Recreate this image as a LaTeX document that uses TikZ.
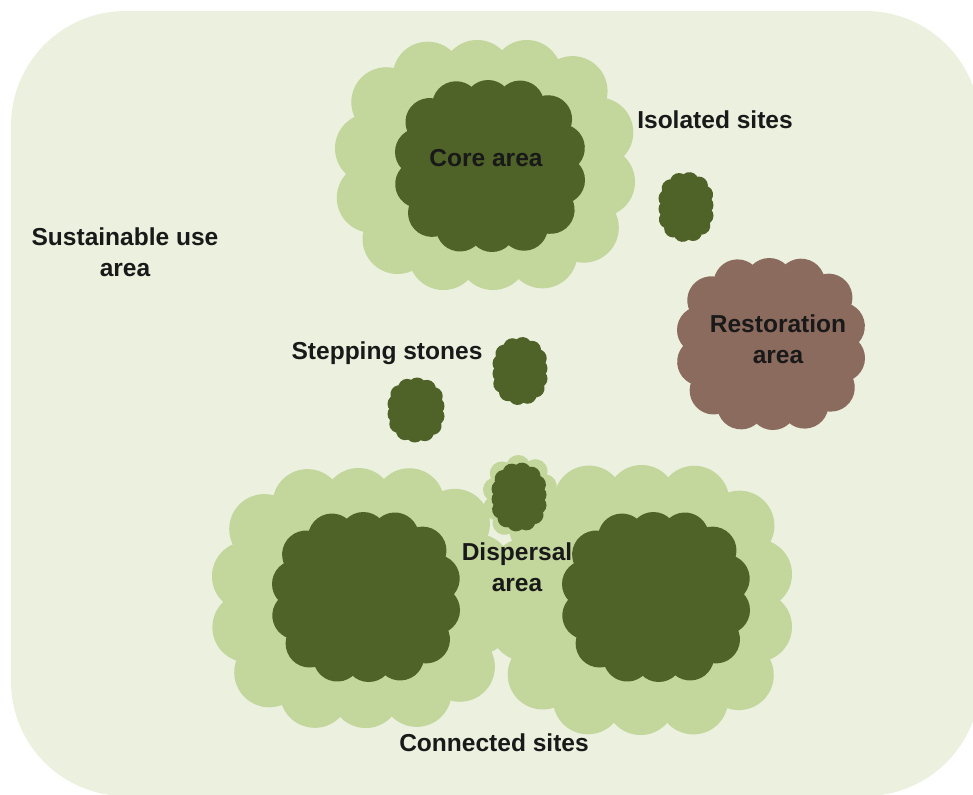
\documentclass[tikz,border=0pt]{standalone}
\usepackage{fontspec}
\setmainfont{Liberation Sans}
\usetikzlibrary{decorations.markings}
\definecolor{bgland}{HTML}{EBF0DF}
\definecolor{buffer}{HTML}{C3D69B}
\definecolor{core}{HTML}{4F6228}
\definecolor{restore}{HTML}{8B6B5D}
% colour, centre, half width, half height, corner, puff radius, puff step
\newcommand{\blob}[7]{\path[fill=#1,rounded corners=#5,postaction={decorate},
	decoration={markings,mark=between positions 0 and 0.99 step #7 with {\fill[#1] (0,0) circle (#6);}}]
	(#2) ++(-#3,-#4) rectangle ++(2*#3,2*#4);}
\begin{document}
\begin{tikzpicture}[x=0.75pt,y=-0.75pt,
	lbl/.style={text=black!90,font=\fontsize{18.4}{23}\selectfont\bfseries,align=center,inner sep=0pt}]
	\useasboundingbox (0,0) rectangle (973,794);
	\clip (0,0) rectangle (973,794);
	\fill[bgland,rounded corners=86pt] (11,11) rectangle (980,796);
	\blob{buffer}{485,165}{115}{90}{55pt}{35}{0.0714}
	\blob{core}{490,166}{71}{62}{36pt}{24}{0.0714}
	\blob{core}{686,207}{18.5}{26}{13pt}{9}{0.0714}
	\blob{restore}{771,344}{70}{62}{36pt}{24}{0.0714}
	\blob{core}{520,371}{18.5}{25}{13pt}{9}{0.0714}
	\blob{core}{416,410}{19.5}{23.5}{13pt}{9}{0.0714}
	\blob{buffer}{362,598}{115}{95}{55pt}{35}{0.0714}
	\blob{buffer}{520,497}{25}{30}{17pt}{12}{0.1}
	\blob{buffer}{641,600}{116}{100}{55pt}{35}{0.0714}
	\blob{core}{519,497}{18.5}{25.5}{13pt}{9}{0.0714}
	\blob{core}{366,597}{70}{61}{36pt}{24}{0.0714}
	\blob{core}{656,597}{70}{61}{36pt}{24}{0.0714}
	\node[lbl] (sustain) at (125,252) {Sustainable use\\area};
	\node[lbl] (corelbl) at (486,158) {Core area};
	\node[lbl] (isolbl) at (715,120) {Isolated sites};
	\node[lbl] (restlbl) at (778,339) {Restoration\\area};
	\node[lbl] (steplbl) at (387,353) {Stepping stones};
	\node[lbl] (displbl) at (517,567) {Dispersal\\area};
	\node[lbl] (connlbl) at (494,743) {Connected sites};
\end{tikzpicture}
\end{document}
